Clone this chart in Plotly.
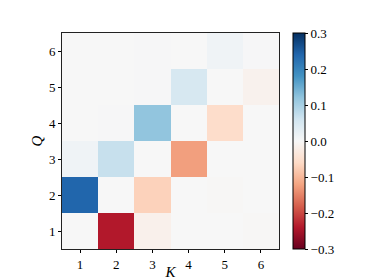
import plotly.graph_objects as go

K = [1, 2, 3, 4, 5, 6]
Q = [1, 2, 3, 4, 5, 6]
# rows are Q = 1..6, columns are K = 1..6
values = [
    [0.000, -0.240, -0.015, 0.000, 0.000, -0.002],
    [0.240, 0.000, -0.070, 0.000, -0.002, 0.000],
    [0.012, 0.070, 0.000, -0.125, 0.000, 0.000],
    [0.000, 0.002, 0.120, 0.000, -0.055, 0.000],
    [0.000, 0.000, 0.002, 0.050, 0.000, -0.012],
    [0.000, 0.000, 0.002, 0.000, 0.012, 0.002],
]

rdbu = ["#67001f", "#b2182b", "#d6604d", "#f4a582", "#fddbc7", "#f7f7f7",
        "#d1e5f0", "#92c5de", "#4393c3", "#2166ac", "#053061"]
colorscale = [[i / 10, c] for i, c in enumerate(rdbu)]

font = "Liberation Serif"

fig = go.Figure(go.Heatmap(
    x=K, y=Q, z=values,
    colorscale=colorscale, zmin=-0.3, zmax=0.3,
    colorbar=dict(
        x=1.064, xanchor="left", y=0, yanchor="bottom", len=1, lenmode="fraction",
        thickness=12, outlinewidth=1, outlinecolor="black",
        tickvals=[-0.3, -0.2, -0.1, 0, 0.1, 0.2, 0.3],
        ticktext=["\u22120.3", "\u22120.2", "\u22120.1", "0.0", "0.1", "0.2", "0.3"],
        ticks="outside", ticklen=3, tickcolor="black",
        tickfont=dict(family=font, size=13, color="black"),
        ypad=0, xpad=0,
    ),
))

axis_common = dict(
    showline=True, linecolor="#222", linewidth=1, mirror=True,
    ticks="outside", ticklen=3, tickcolor="black", showgrid=False, zeroline=False,
    tickfont=dict(family=font, size=13, color="black"),
    tickvals=[1, 2, 3, 4, 5, 6],
)

fig.update_xaxes(**axis_common, range=[0.5, 6.5],
                 title=dict(text="<i>K</i>", font=dict(family=font, size=15, color="black"), standoff=3))
fig.update_yaxes(**axis_common, range=[0.5, 6.5],
                 title=dict(text="<i>Q</i>", font=dict(family=font, size=15, color="black"), standoff=2))

fig.update_layout(
    width=366, height=272,
    margin=dict(l=54, r=95, t=25, b=31, autoexpand=False),
    paper_bgcolor="white", plot_bgcolor="white",
)

fig.write_html("out.html")
